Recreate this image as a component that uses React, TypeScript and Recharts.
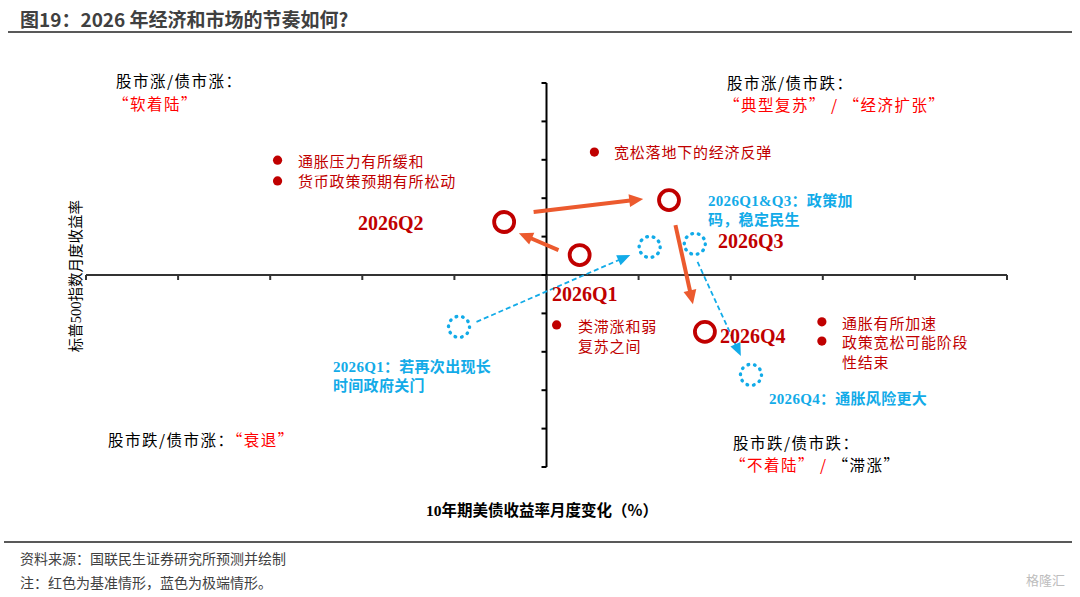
import React from 'react';
import { ScatterChart, Scatter, XAxis, YAxis, ReferenceLine, ReferenceDot } from 'recharts';

// axis ticks (no labels in the original, only marks)
const axisTicks = [-5, -4, -3, -2, -1, 0, 1, 2, 3, 4, 5];

// base case (red rings), one per quarter
const baseQuarters = ['2026Q1', '2026Q2', '2026Q3', '2026Q4'];
const baseX = [0.36, -0.46, 1.33, 1.72];
const baseY = [0.52, 1.38, 1.95, -1.48];

// extreme case (blue dotted rings)
const extremeNames = ['2026Q1', '2026Q1&Q3-a', '2026Q1&Q3-b', '2026Q4'];
const extremeX = [-0.95, 1.12, 1.61, 2.22];
const extremeY = [-1.35, 0.73, 0.81, -2.6];

// small red bullet points next to the explanations
const driverX = [-2.92, -2.92, 0.52, 0.11, 2.99, 2.99];
const driverY = [2.99, 2.45, 3.2, -1.3, -1.22, -1.72];

// arrows: [x1, y1, x2, y2]
const baseArrows = [
  [0.13, 0.65, -0.3, 1.09],
  [-0.14, 1.64, 1.05, 1.98],
  [1.4, 1.3, 1.59, -0.76],
];
const extremeArrows = [
  [-0.76, -1.22, 0.91, 0.52],
  [1.64, 0.34, 2.11, -2.11],
];

const RED = '#C00000';
const ARROW = '#EC5A2E';
const BLUE = '#12ABE8';
const CJK = '"Noto Sans CJK SC", "Noto Sans", sans-serif';
const SERIF = '"Liberation Serif", "DejaVu Serif", serif';

const baseData = baseQuarters.map((q, i) => ({ q, x: baseX[i], y: baseY[i] }));
const extremeData = extremeNames.map((q, i) => ({ q, x: extremeX[i], y: extremeY[i] }));
const driverData = driverX.map((x, i) => ({ x, y: driverY[i] }));

const arrowShape = (color: string, width: number, headLen: number, headW: number, dash?: string) => (p: any) => {
  const { x1, y1, x2, y2 } = p;
  const dx = x2 - x1;
  const dy = y2 - y1;
  const len = Math.sqrt(dx * dx + dy * dy) || 1;
  const ux = dx / len;
  const uy = dy / len;
  const bx = x2 - ux * headLen;
  const by = y2 - uy * headLen;
  const pts = `${x2},${y2} ${bx - uy * headW / 2},${by + ux * headW / 2} ${bx + uy * headW / 2},${by - ux * headW / 2}`;
  return (
    <g>
      <line x1={x1} y1={y1} x2={bx + ux * 1} y2={by + uy * 1} stroke={color} strokeWidth={width} strokeDasharray={dash} />
      <polygon points={pts} fill={color} />
    </g>
  );
};

const RedRing = (p: any) => <circle cx={p.cx} cy={p.cy} r={10} fill="none" stroke={RED} strokeWidth={3.8} />;
const BlueRing = (p: any) => (
  <circle
    cx={p.cx}
    cy={p.cy}
    r={10.5}
    fill="none"
    stroke={BLUE}
    strokeWidth={3.4}
    strokeDasharray="0.6 6"
    strokeLinecap="round"
  />
);
const RedDot = (p: any) => <circle cx={p.cx} cy={p.cy} r={4.6} fill={RED} />;

const T = ({ left, cy, size = 15, color = '#000', bold = false, family = CJK, children, spacing = 0.8 }: any) => (
  <div
    style={{
      position: 'absolute',
      left,
      top: cy - 11,
      height: 22,
      lineHeight: '22px',
      fontSize: size,
      color,
      fontWeight: bold ? 700 : 400,
      fontFamily: family,
      whiteSpace: 'nowrap',
      letterSpacing: spacing,
    }}
  >
    {children}
  </div>
);

const S = ({ children }: any) => <span style={{ fontFamily: SERIF }}>{children}</span>;

export default function App() {
  return (
    <div style={{ position: 'absolute', left: 0, top: 0, width: 1080, height: 597, background: '#fff', overflow: 'hidden' }}>
      <ScatterChart width={1080} height={597} margin={{ top: 83, right: 73, bottom: 130, left: 86 }}>
        <XAxis type="number" dataKey="x" domain={[-5, 5]} hide />
        <YAxis type="number" dataKey="y" domain={[-5, 5]} hide />
        <ReferenceLine y={0} stroke="#333" strokeWidth={2} />
        <ReferenceLine x={0} stroke="#000" strokeWidth={2} />
        {axisTicks.map((t) => (
          <ReferenceDot
            key={'xt' + t}
            x={t}
            y={0}
            shape={(p: any) => <line x1={p.cx} y1={p.cy} x2={p.cx} y2={p.cy + 5} stroke="#333" strokeWidth={2} />}
          />
        ))}
        {axisTicks.map((t) => (
          <ReferenceDot
            key={'yt' + t}
            x={0}
            y={t}
            shape={(p: any) => <line x1={p.cx - 5} y1={p.cy} x2={p.cx} y2={p.cy} stroke="#000" strokeWidth={2} />}
          />
        ))}
        {baseArrows.map((a, i) => (
          <ReferenceLine
            key={'ba' + i}
            segment={[{ x: a[0], y: a[1] }, { x: a[2], y: a[3] }]}
            shape={arrowShape(ARROW, 4, 14, 13)}
          />
        ))}
        {extremeArrows.map((a, i) => (
          <ReferenceLine
            key={'ea' + i}
            segment={[{ x: a[0], y: a[1] }, { x: a[2], y: a[3] }]}
            shape={arrowShape(BLUE, 1.8, 13, 11, '5 3')}
          />
        ))}
        <Scatter name="drivers" data={driverData} shape={RedDot} isAnimationActive={false} />
        <Scatter name="基准情形" data={baseData} shape={RedRing} isAnimationActive={false} />
        <Scatter name="极端情形" data={extremeData} shape={BlueRing} isAnimationActive={false} />
      </ScatterChart>

      {/* title */}
      <div style={{ position: 'absolute', left: 20, top: 6, fontSize: 19, fontWeight: 700, color: '#404040', fontFamily: CJK, lineHeight: '26px' }}>
        图19：2026 年经济和市场的节奏如何?
      </div>
      <div style={{ position: 'absolute', left: 8, top: 31, width: 1064, height: 2, background: '#595959' }} />

      {/* quadrant captions */}
      <T left={116} cy={80} size={15.5} spacing={1.5}>股市涨/债市涨：</T>
      <T left={113} cy={103} size={15.5} spacing={1.5} color="#FF0000">“软着陆”</T>
      <T left={727} cy={82} size={15.5} spacing={1.5}>股市涨/债市跌：</T>
      <T left={724} cy={104} size={15.5} spacing={1.5} color="#FF0000">“典型复苏” / “经济扩张”</T>
      <T left={108} cy={439} size={15.5} spacing={1.5}>股市跌/债市涨：<span style={{ color: '#FF0000' }}>“衰退”</span></T>
      <T left={733} cy={442} size={15.5} spacing={1.5}>股市跌/债市跌：</T>
      <T left={730} cy={464} size={15.5} spacing={1.5}>
        <span style={{ color: '#FF0000' }}>“不着陆” / </span>“滞涨”
      </T>

      {/* quarter labels */}
      <T left={358} cy={223} size={20} bold color={RED} family={SERIF} spacing={0}>2026Q2</T>
      <T left={552} cy={294} size={20} bold color={RED} family={SERIF} spacing={0}>2026Q1</T>
      <T left={718} cy={241} size={20} bold color={RED} family={SERIF} spacing={0}>2026Q3</T>
      <T left={720} cy={336} size={20} bold color={RED} family={SERIF} spacing={0}>2026Q4</T>

      {/* base case explanations */}
      <T left={298} cy={161} color={RED}>通胀压力有所缓和</T>
      <T left={298} cy={181} color={RED}>货币政策预期有所松动</T>
      <T left={614} cy={152} color={RED}>宽松落地下的经济反弹</T>
      <T left={578} cy={326} color={RED}>类滞涨和弱</T>
      <T left={578} cy={346} color={RED}>复苏之间</T>
      <T left={842} cy={323} color={RED}>通胀有所加速</T>
      <T left={842} cy={342} color={RED}>政策宽松可能阶段</T>
      <T left={842} cy={362} color={RED}>性结束</T>

      {/* extreme case explanations */}
      <T left={708} cy={200} size={15} bold color={BLUE} spacing={0.3}><S>2026Q1&amp;Q3</S>：政策加</T>
      <T left={708} cy={219} size={15} bold color={BLUE} spacing={0.3}>码，稳定民生</T>
      <T left={333} cy={366} size={15} bold color={BLUE} spacing={0.3}><S>2026Q1</S>：若再次出现长</T>
      <T left={333} cy={385} size={15} bold color={BLUE} spacing={0.3}>时间政府关门</T>
      <T left={769} cy={398} size={15} bold color={BLUE} spacing={0.3}><S>2026Q4</S>：通胀风险更大</T>

      {/* axis titles */}
      <div
        style={{
          position: 'absolute',
          left: 75,
          top: 276,
          transform: 'translate(-50%, -50%) rotate(-90deg)',
          fontSize: 14.5,
          fontFamily: CJK,
          color: '#000',
          whiteSpace: 'nowrap',
          lineHeight: '18px',
        }}
      >
        标普<S>500</S>指数月度收益率
      </div>
      <div
        style={{
          position: 'absolute',
          left: 542,
          top: 510,
          transform: 'translate(-50%, -50%)',
          fontSize: 15.5,
          fontWeight: 700,
          fontFamily: CJK,
          color: '#000',
          whiteSpace: 'nowrap',
          lineHeight: '18px',
        }}
      >
        <S>10</S>年期美债收益率月度变化（%）
      </div>

      {/* footer */}
      <div style={{ position: 'absolute', left: 4, top: 541, width: 1068, height: 2, background: '#595959' }} />
      <T left={20} cy={558} size={14} color="#404040" spacing={0}>资料来源：国联民生证券研究所预测并绘制</T>
      <T left={20} cy={582} size={14} color="#404040" spacing={0}>注：红色为基准情形，蓝色为极端情形。</T>
      <T left={1026} cy={580} size={13} color="#bdbdbd" spacing={0}>格隆汇</T>
    </div>
  );
}
